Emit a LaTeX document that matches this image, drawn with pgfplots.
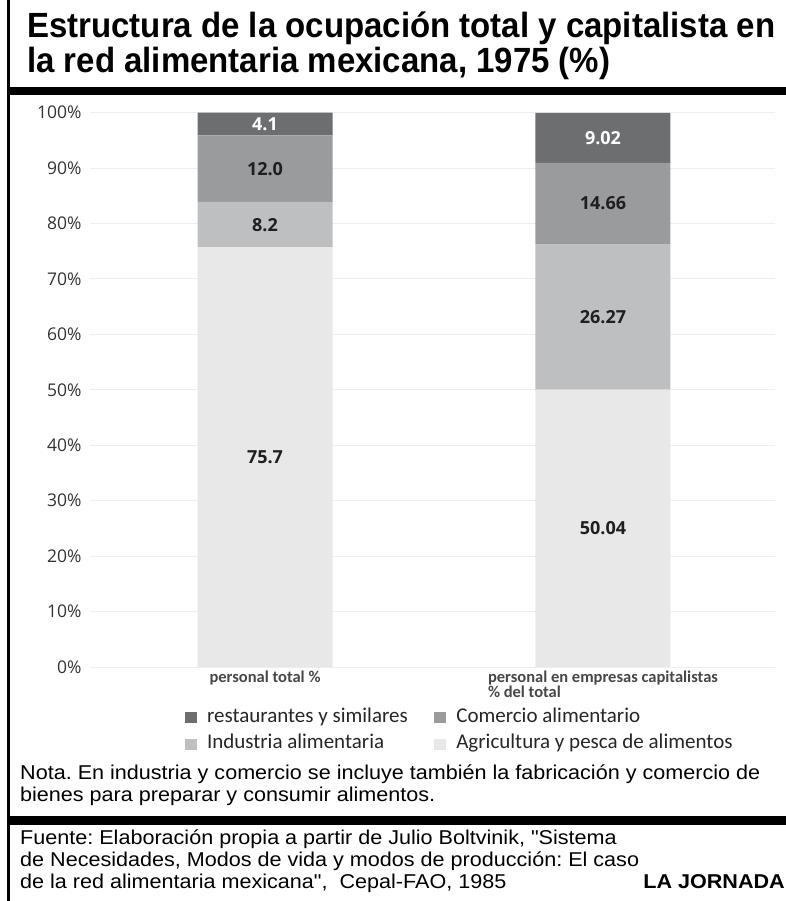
\documentclass[border=0pt]{standalone}
\usepackage{fontspec}
\usepackage{graphicx}
\usepackage{pgfplots}
\pgfplotsset{compat=1.18}
\setmainfont{Liberation Sans}
\newfontfamily\opensans{Open Sans}
\newfontfamily\carlito{Carlito}
\newfontfamily\libsans{Liberation Sans}
\definecolor{cRes}{HTML}{6D6E70}
\definecolor{cCom}{HTML}{9A9B9D}
\definecolor{cInd}{HTML}{BDBFC1}
\definecolor{cAgr}{HTML}{E8E8E8}
\definecolor{gridc}{HTML}{EEEEEE}
\definecolor{txt}{HTML}{333333}
\newlength\tw
\newlength\nw
\newcommand\titlefont{\libsans\bfseries\fontsize{35}{40}\selectfont}
\newcommand\notefont{\libsans\fontsize{20}{23}\selectfont}
\frenchspacing

\begin{document}
\settowidth\tw{\titlefont Estructura de la ocupación total y capitalista en}%
\pgfmathsetmacro\tsx{748/\tw}%
\settowidth\nw{\notefont Nota. En industria y comercio se incluye también la fabricación y comercio de}%
\pgfmathsetmacro\nsx{740/\nw}%
\begin{tikzpicture}
\useasboundingbox (0,0) rectangle (786pt,-901pt);
\fill[black] (7pt,0) rectangle (10pt,-901pt);
\fill[black] (8pt,-87pt) rectangle (786pt,-95pt);
\fill[black] (8pt,-816pt) rectangle (786pt,-825pt);

\node[anchor=base west, inner sep=0] at (27pt,-38pt) {\scalebox{\tsx}[1]{\titlefont Estructura de la ocupación total y capitalista en}};
\node[anchor=base west, inner sep=0] at (27pt,-73pt) {\scalebox{\tsx}[1]{\titlefont la red alimentaria mexicana, 1975 (\%)}};

\node[anchor=base west, inner sep=0] at (20pt,-779pt) {\scalebox{\nsx}[1]{\notefont Nota. En industria y comercio se incluye también la fabricación y comercio de}};
\node[anchor=base west, inner sep=0] at (20pt,-801pt) {\scalebox{\nsx}[1]{\notefont bienes para preparar y consumir alimentos.}};
\node[anchor=base west, inner sep=0] at (20pt,-844pt) {\scalebox{\nsx}[1]{\notefont Fuente: Elaboración propia a partir de Julio Boltvinik, "Sistema}};
\node[anchor=base west, inner sep=0] at (20pt,-866pt) {\scalebox{\nsx}[1]{\notefont de Necesidades, Modos de vida y modos de producción: El caso}};
\node[anchor=base west, inner sep=0] at (20pt,-888pt) {\scalebox{\nsx}[1]{\notefont de la red alimentaria mexicana", \ Cepal-FAO, 1985}};
\node[anchor=base east, inner sep=0] at (785pt,-888pt) {\scalebox{\nsx}[1]{\libsans\bfseries\fontsize{20}{23}\selectfont LA JORNADA}};

\begin{axis}[
  at={(90pt,-667pt)}, anchor=south west,
  scale only axis, width=685pt, height=554.3pt,
  ybar stacked, bar width=135pt,
  xmin=-0.5178, xmax=1.509, ymin=0, ymax=100,
  axis line style={draw=none},
  major tick length=0pt,
  ytick={0,10,20,30,40,50,60,70,80,90,100},
  yticklabels={0\%,10\%,20\%,30\%,40\%,50\%,60\%,70\%,80\%,90\%,100\%},
  yticklabel style={font=\opensans\fontsize{17.5}{18}\selectfont, text=txt, xshift=-5pt},
  ymajorgrids, grid style={draw=gridc, line width=1pt},
  xtick={0,1},
  xticklabels={personal total \%,{personal en empresas capitalistas\\\% del total}},
  xticklabel style={align=left, font=\carlito\bfseries\fontsize{16.5}{14}\selectfont, text=black!72, yshift=-3pt, inner sep=1pt},
  legend columns=2,
  reverse legend,
  legend cell align=left,
  legend image code/.code={\fill[#1] (0pt,-5.5pt) rectangle (12pt,5.5pt);},
  legend style={at={(axis description cs:0.1387,-0.0722)}, anchor=north west,
    draw=none, fill=none, inner sep=0pt, outer sep=0pt,
    font=\carlito\fontsize{21}{22}\selectfont, text=black!85,
    nodes={inner sep=1.5pt, text height=13.5pt, text depth=5pt},
    row sep=5pt,
    /tikz/every odd column/.append style={column sep=8.5pt},
    /tikz/every even column/.append style={column sep=25pt}},
]
\addplot[fill=cAgr, draw=none] coordinates {(0,75.7) (1,50.04)};
\addlegendentry{Agricultura y pesca de alimentos}
\addplot[fill=cInd, draw=none] coordinates {(0,8.2) (1,26.27)};
\addlegendentry{Industria alimentaria}
\addplot[fill=cCom, draw=none] coordinates {(0,12.0) (1,14.66)};
\addlegendentry{Comercio alimentario}
\addplot[fill=cRes, draw=none] coordinates {(0,4.1) (1,9.02)};
\addlegendentry{restaurantes y similares}
\end{axis}

\begin{axis}[
  at={(90pt,-667pt)}, anchor=south west,
  scale only axis, width=685pt, height=554.3pt,
  xmin=-0.5178, xmax=1.509, ymin=0, ymax=100,
  hide axis,
  point meta=explicit symbolic,
  nodes near coords={\pgfplotspointmeta},
  nodes near coords style={anchor=center, font=\opensans\bfseries\fontsize{18}{18}\selectfont},
]
\addplot[draw=none, no marks, every node near coord/.append style={text=black!88}] coordinates {
  (0,37.85)[75.7] (0,79.8)[8.2] (0,89.9)[12.0]
  (1,25.02)[50.04] (1,63.175)[26.27] (1,83.64)[14.66]};
\addplot[draw=none, no marks, every node near coord/.append style={text=white}] coordinates {
  (0,97.95)[4.1] (1,95.49)[9.02]};
\end{axis}
\end{tikzpicture}
\end{document}
